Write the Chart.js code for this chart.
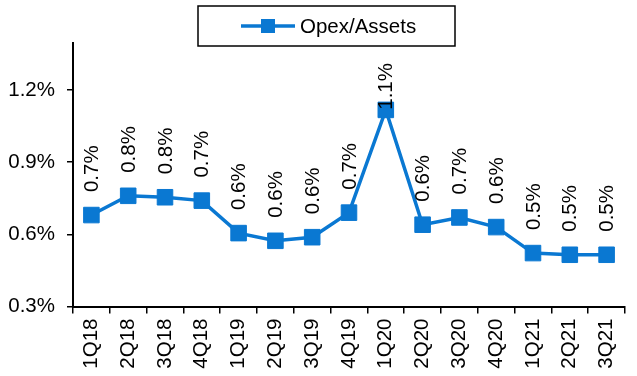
<!DOCTYPE html>
<html>
<head>
<meta charset="utf-8">
<script src="https://cdn.jsdelivr.net/npm/chart.js@4/dist/chart.umd.min.js"></script>
<style>
  html, body { margin: 0; padding: 0; background: #fff; }
  #wrap { width: 637px; height: 376px; position: relative; }
</style>
</head>
<body>
<div id="wrap"><canvas id="myChart"></canvas></div>
<script>
// quarter labels and the ratio (in %)
const categories = ["1Q18", "2Q18", "3Q18", "4Q18", "1Q19", "2Q19", "3Q19", "4Q19",
  "1Q20", "2Q20", "3Q20", "4Q20", "1Q21", "2Q21", "3Q21"];
const opexAssets = [0.68, 0.76, 0.754, 0.74, 0.605, 0.573, 0.588, 0.69,
  1.117, 0.64, 0.67, 0.63, 0.522, 0.515, 0.515];
const yTicks = [0.3, 0.6, 0.9, 1.2];
const seriesName = "Opex/Assets";

const BLUE = "#0A78D2";
const FONT = "'Liberation Sans', Arial, sans-serif";
const FS = 20.5;

// rotated value labels above each point
const valueLabels = {
  id: "valueLabels",
  afterDatasetsDraw(chart) {
    const ctx = chart.ctx;
    const meta = chart.getDatasetMeta(0);
    const minTop = chart.chartArea.top + 20;
    ctx.save();
    ctx.font = FS + "px " + FONT;
    ctx.fillStyle = "#000";
    ctx.textAlign = "left";
    ctx.textBaseline = "middle";
    meta.data.forEach((pt, i) => {
      const txt = opexAssets[i].toFixed(1) + "%";
      const w = ctx.measureText(txt).width;
      let start = pt.y - 23;
      if (start - w < minTop) start = minTop + w; // keep inside the plot
      ctx.save();
      ctx.translate(pt.x + 1, start);
      ctx.rotate(-Math.PI / 2);
      ctx.fillText(txt, 0, 0);
      ctx.restore();
    });
    ctx.restore();
  }
};

// boxed legend like the original
const boxLegend = {
  id: "boxLegend",
  afterDraw(chart) {
    const ctx = chart.ctx;
    const bx = 198, by = 6, bw = 257, bh = 40;
    ctx.save();
    ctx.strokeStyle = "#000";
    ctx.lineWidth = 1.5;
    ctx.strokeRect(bx, by, bw, bh);
    const cy = by + bh / 2;
    ctx.strokeStyle = BLUE;
    ctx.lineWidth = 3.5;
    ctx.beginPath();
    ctx.moveTo(241, cy);
    ctx.lineTo(295, cy);
    ctx.stroke();
    ctx.fillStyle = BLUE;
    ctx.fillRect(261, cy - 7, 14, 14);
    ctx.fillStyle = "#000";
    ctx.font = FS + "px " + FONT;
    ctx.textAlign = "left";
    ctx.textBaseline = "middle";
    ctx.fillText(seriesName, 300, cy + 1);
    ctx.restore();
  }
};

new Chart(document.getElementById("myChart"), {
  type: "line",
  data: {
    labels: categories,
    datasets: [{
      label: seriesName,
      data: opexAssets,
      borderColor: BLUE,
      backgroundColor: BLUE,
      borderWidth: 3.5,
      pointStyle: "rect",
      pointRadius: 11,
      pointBorderWidth: 1,
      pointBackgroundColor: BLUE,
      pointBorderColor: BLUE,
      tension: 0,
      fill: false
    }]
  },
  options: {
    responsive: true,
    maintainAspectRatio: false,
    animation: false,
    layout: { padding: { top: 43, right: 6, left: 0, bottom: 0 } },
    plugins: {
      legend: { display: false },
      tooltip: { enabled: false }
    },
    scales: {
      x: {
        offset: true,
        grid: {
          offset: true,
          drawOnChartArea: false,
          tickLength: 7,
          tickColor: "#000",
          lineWidth: 1.5
        },
        border: { display: true, color: "#000", width: 2 },
        ticks: {
          color: "#000",
          font: { family: FONT, size: FS },
          minRotation: 90,
          maxRotation: 90,
          padding: 5,
          autoSkip: false
        },
        afterFit(scale) { scale.height = 69.5; }
      },
      y: {
        min: 0.3,
        max: 1.395,
        grid: {
          drawOnChartArea: false,
          tickLength: 6,
          tickColor: "#000",
          lineWidth: 1.5
        },
        border: { display: true, color: "#000", width: 2 },
        ticks: {
          color: "#000",
          font: { family: FONT, size: FS },
          padding: 12,
          callback: (v) => v.toFixed(1) + "%"
        },
        afterBuildTicks(scale) {
          scale.ticks = yTicks.map((v) => ({ value: v }));
        },
        afterFit(scale) { scale.width = 73; }
      }
    }
  },
  plugins: [valueLabels, boxLegend]
});
</script>
</body>
</html>
